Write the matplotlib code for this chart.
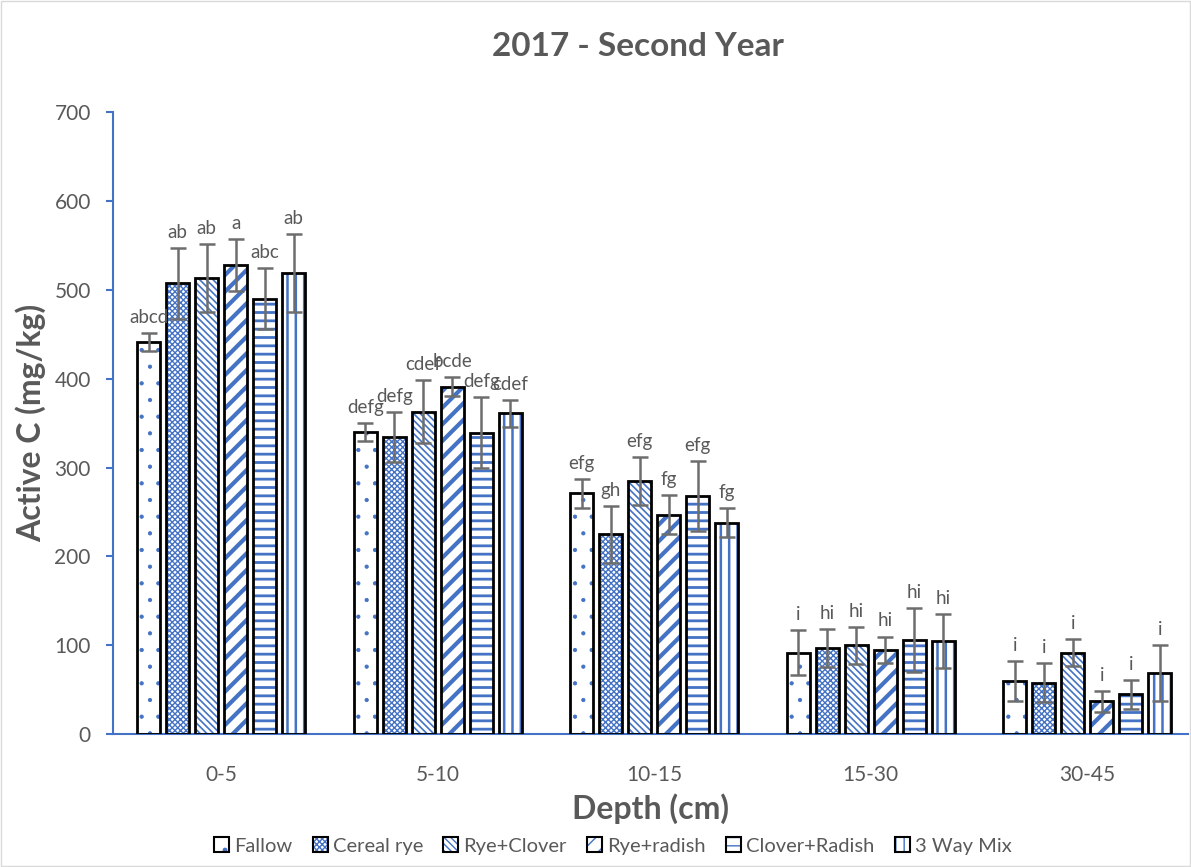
import matplotlib.pyplot as plt
import numpy as np
from matplotlib.patches import Rectangle

# data
depths = ['0-5', '5-10', '10-15', '15-30', '30-45']
treatments = ['Fallow', 'Cereal rye', 'Rye+Clover', 'Rye+radish', 'Clover+Radish', '3 Way Mix']

means = {
    'Fallow':        [441, 340, 271, 92, 60],
    'Cereal rye':    [507, 334, 225, 97, 58],
    'Rye+Clover':    [513, 363, 285, 100, 92],
    'Rye+radish':    [528, 391, 247, 95, 37],
    'Clover+Radish': [490, 339, 268, 106, 45],
    '3 Way Mix':     [519, 361, 238, 105, 69],
}
errors = {
    'Fallow':        [10, 10, 16, 25, 22],
    'Cereal rye':    [40, 28, 32, 21, 22],
    'Rye+Clover':    [38, 35, 27, 21, 15],
    'Rye+radish':    [29, 11, 22, 15, 12],
    'Clover+Radish': [34, 40, 39, 36, 16],
    '3 Way Mix':     [44, 15, 16, 30, 31],
}
letters = {
    'Fallow':        ['abcd', 'defg', 'efg', 'i', 'i'],
    'Cereal rye':    ['ab', 'defg', 'gh', 'hi', 'i'],
    'Rye+Clover':    ['ab', 'cdef', 'efg', 'hi', 'i'],
    'Rye+radish':    ['a', 'bcde', 'fg', 'hi', 'i'],
    'Clover+Radish': ['abc', 'defg', 'efg', 'hi', 'i'],
    '3 Way Mix':     ['ab', 'cdef', 'fg', 'hi', 'i'],
}
hatches = ['.', 'xxxxxx', '\\\\\\\\\\', '//', '--', '||']
hatch_lw = [0.6, 1.0, 1.2, 3.0, 2.0, 1.8]

blue = '#4472C4'
grey = '#595959'
plt.rcParams['font.family'] = ['Lato', 'DejaVu Sans']

fig = plt.figure(figsize=(11.91, 8.67), dpi=100)
ax = fig.add_axes([113 / 1191, 0.153, 1075 / 1191, 0.718])
fig.patches.append(Rectangle((0.001, 0.001), 0.998, 0.998, transform=fig.transFigure,
                             fill=False, edgecolor='#d9d9d9', linewidth=1))

x = np.arange(len(depths))
pitch = 0.134
width = 0.106
handles = []
for i, t in enumerate(treatments):
    pos = x + (i - 2.5) * pitch
    with plt.rc_context({'hatch.linewidth': hatch_lw[i]}):
        ax.bar(pos, means[t], width, color='white', edgecolor=blue, hatch=hatches[i], linewidth=0)
        hp = Rectangle((0, 0), 1, 1, facecolor='white', edgecolor=blue, hatch=hatches[i], linewidth=0)
    ax.bar(pos, means[t], width, fill=False, edgecolor='black', linewidth=2, zorder=3)
    ax.errorbar(pos, means[t], yerr=errors[t], fmt='none', ecolor='#6d6d6d',
                elinewidth=1.8, capsize=5.5, capthick=1.8, zorder=4)
    for px, m, e, lab in zip(pos, means[t], errors[t], letters[t]):
        ax.text(px, m + e + 8, lab, ha='center', va='bottom', fontsize=13.5, color=grey, zorder=5)
    handles.append((hp, Rectangle((0, 0), 1, 1, fill=False, edgecolor='black', linewidth=1.5)))

ax.set_xlim(-0.5, 4.465)
ax.set_ylim(0, 700)
ax.set_yticks(range(0, 701, 100))
ax.set_xticks(x)
ax.set_xticklabels(depths)
ax.tick_params(axis='both', labelsize=15, labelcolor=grey)
ax.tick_params(axis='x', length=0, pad=22)
ax.tick_params(axis='y', length=5, width=1.5, color=blue, pad=11)
for s in ['right', 'top']:
    ax.spines[s].set_visible(False)
for s in ['left', 'bottom']:
    ax.spines[s].set_color(blue)
    ax.spines[s].set_linewidth(1.5)

ax.set_title('2017 - Second Year', fontsize=24, fontweight='bold', color=grey, pad=40, x=0.488)
ax.set_ylabel('Active C (mg/kg)', fontsize=23, fontweight='bold', color=grey, labelpad=6)
ax.set_xlabel('Depth (cm)', fontsize=23, fontweight='bold', color=grey, labelpad=6)

leg = ax.legend(handles, treatments, loc='upper center', bbox_to_anchor=(0.465, -0.136),
                ncol=6, frameon=False, fontsize=14.5, handlelength=0.75, handleheight=0.75,
                handletextpad=0.25, columnspacing=1.0)
for txt in leg.get_texts():
    txt.set_color(grey)

fig.savefig('out.png', dpi=100)
